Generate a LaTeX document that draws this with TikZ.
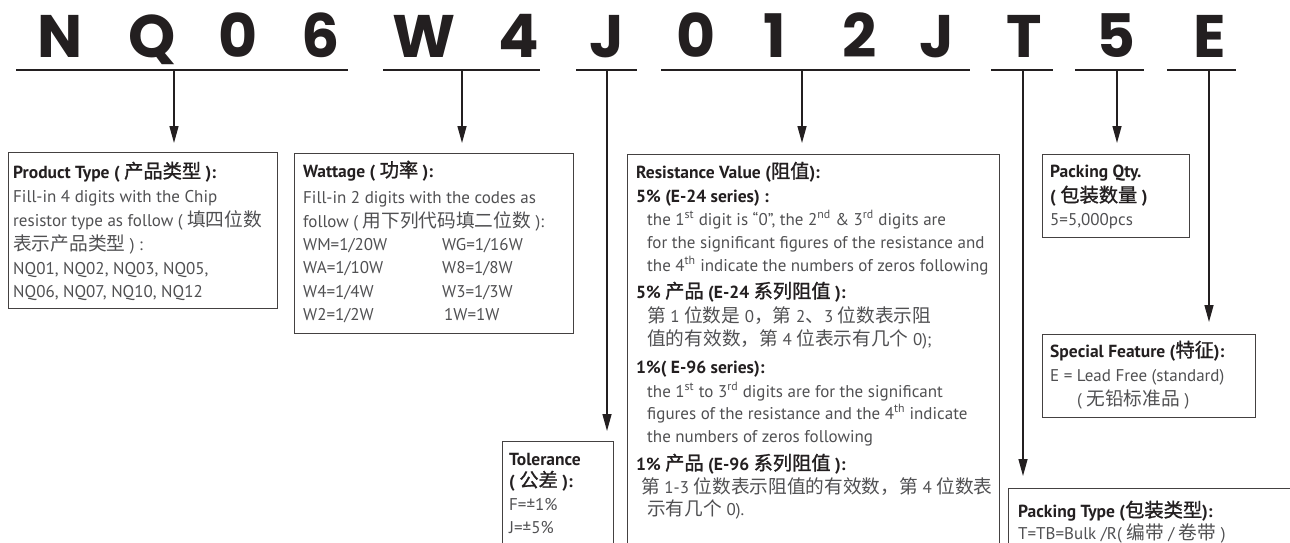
\documentclass[tikz,border=0pt]{standalone}
\usepackage{fontspec}
\setmainfont{PT Sans}
\newfontfamily\cjk{Noto Sans CJK SC}[Scale=1.1]
\newfontfamily\cjkh{Noto Sans CJK SC}[Scale=1.1, BoldFont=*, BoldFeatures={FakeBold=1.2}]
\newfontfamily\bigf{Poppins}
\usetikzlibrary{arrows.meta}
\definecolor{ink}{HTML}{231F20}
\definecolor{txt}{HTML}{505052}
\begin{document}
\begin{tikzpicture}[x=1pt,y=-1pt,
  letter/.style={font=\bigf\bfseries\fontsize{60}{60}\selectfont, text=ink, anchor=base, inner sep=0},
  uline/.style={line width=2pt, draw=ink},
  conn/.style={line width=1.4pt, draw=ink},
  arr/.style={conn, -{Triangle[width=9pt,length=17pt]}},
  box/.style={draw=ink!85, line width=1.3pt, anchor=north west, inner sep=0},
  hd/.style={font=\bfseries\fontsize{17.5}{17.5}\selectfont, text=ink, anchor=base west, inner sep=0},
  tx/.style={font=\fontsize{17}{17}\selectfont, text=txt, anchor=base west, inner sep=0},
]
\useasboundingbox (0,0) rectangle (1290,542);
\clip (0,0) rectangle (1290,542);

% letters
\node[letter] (l1) at (60,57) {N};
\node[letter] (l2) at (152,57) {Q};
\node[letter] (l3) at (238,57) {0};
\node[letter] (l4) at (321,57) {6};
\node[letter] (l5) at (424,57) {W};
\node[letter] (l6) at (519,57) {4};
\node[letter] (l7) at (607,57) {J};
\node[letter] (l8) at (696,57) {0};
\node[letter] (l9) at (775,57) {1};
\node[letter] (l10) at (860,57) {2};
\node[letter] (l11) at (937,57) {J};
\node[letter] (l12) at (1024,57) {T};
\node[letter] (l13) at (1116,57) {5};
\node[letter] (l14) at (1210,57) {E};

% underlines
\coordinate (u1a) at (16,70);   \coordinate (u1b) at (348,70);
\coordinate (u2a) at (383,70);  \coordinate (u2b) at (540,70);
\coordinate (u3a) at (576,70);  \coordinate (u3b) at (637,70);
\coordinate (u4a) at (661,70);  \coordinate (u4b) at (970,70);
\coordinate (u5a) at (991,70);  \coordinate (u5b) at (1053,70);
\coordinate (u6a) at (1075,70); \coordinate (u6b) at (1144,70);
\coordinate (u7a) at (1167,70); \coordinate (u7b) at (1236,70);
\foreach \i in {1,...,7} {\draw[uline] (u\i a) -- (u\i b);}

% boxes
\node[box, minimum width=269pt, minimum height=156pt] (bpt) at (8,152) {};
\node[box, minimum width=279pt, minimum height=180pt] (bw) at (294,153) {};
\node[box, minimum width=372pt, minimum height=420pt] (br) at (627,154) {};
\node[box, minimum width=111pt, minimum height=140pt] (bt) at (502,441) {};
\node[box, minimum width=147pt, minimum height=83pt] (bq) at (1042,154) {};
\node[box, minimum width=213pt, minimum height=83pt] (bs) at (1042,334) {};
\node[box, minimum width=320pt, minimum height=100pt] (bp) at (1008,488) {};

% connectors
\coordinate (s1) at (174,70);  \coordinate (e1) at (174,143);
\coordinate (s2) at (462,70);  \coordinate (e2) at (462,143);
\coordinate (s3) at (607,70);  \coordinate (e3) at (607,431);
\coordinate (s4) at (802,70);  \coordinate (e4) at (802,143);
\coordinate (s5) at (1023,70); \coordinate (e5) at (1023,476);
\coordinate (s6) at (1117,70); \coordinate (e6) at (1117,143);
\coordinate (s7) at (1209,70); \coordinate (e7) at (1209,322);
\foreach \i in {1,...,7} {\draw[arr] (s\i) -- (e\i);}

% Product type
\node[hd] (pt1) at (13,178) {Product Type ( {\cjkh 产品类型} ):};
\node[tx] (pt2) at (13,202) {Fill-in 4 digits with the Chip};
\node[tx] (pt3) at (13,226) {resistor type as follow ( {\cjk 填四位数}};
\node[tx] (pt4) at (13,250) {{\cjk 表示产品类型} ) :};
\node[tx] (pt5) at (13,274) {NQ01, NQ02, NQ03, NQ05,};
\node[tx] (pt6) at (13,297) {NQ06, NQ07, NQ10, NQ12};

% Wattage
\node[hd] (w1) at (303,177) {Wattage ( {\cjkh 功率} ):};
\node[tx] (w2) at (303,203) {Fill-in 2 digits with the codes as};
\node[tx] (w3) at (303,227) {follow ( {\cjk 用下列代码填二位数} ):};
\node[tx] (w4a) at (303,250) {WM=1/20W};
\node[tx] (w4b) at (442,250) {WG=1/16W};
\node[tx] (w5a) at (303,273) {WA=1/10W};
\node[tx] (w5b) at (442,273) {W8=1/8W};
\node[tx] (w6a) at (303,297) {W4=1/4W};
\node[tx] (w6b) at (442,297) {W3=1/3W};
\node[tx] (w7a) at (303,320) {W2=1/2W};
\node[tx] (w7b) at (444,320) {1W=1W};

% Resistance
\node[hd] (r1) at (636,178) {Resistance Value ({\cjkh 阻值}):};
\node[hd] (r2) at (636,202) {5\% (E-24 series) :};
\node[tx] (r3) at (647,225) {the 1\textsuperscript{st} digit is “0”, the 2\textsuperscript{nd} \& 3\textsuperscript{rd} digits are};
\node[tx] (r4) at (647,248) {for the significant figures of the resistance and};
\node[tx] (r5) at (647,271) {the 4\textsuperscript{th} indicate the numbers of zeros following};
\node[hd] (r6) at (636,298) {5\% {\cjkh 产品} (E-24 {\cjkh 系列阻值} ):};
\node[tx] (r7) at (647,322) {{\cjk 第} 1 {\cjk 位数是} 0{\cjk ，第} 2{\cjk 、}3 {\cjk 位数表示阻}};
\node[tx] (r8) at (647,345) {{\cjk 值的有效数，第} 4 {\cjk 位表示有几个} 0);};
\node[hd] (r9) at (636,373) {1\%( E-96 series):};
\node[tx] (r10) at (647,397) {the 1\textsuperscript{st} to 3\textsuperscript{rd} digits are for the significant};
\node[tx] (r11) at (647,419) {figures of the resistance and the 4\textsuperscript{th} indicate};
\node[tx] (r12) at (647,442) {the numbers of zeros following};
\node[hd] (r13) at (636,470) {1\% {\cjkh 产品} (E-96 {\cjkh 系列阻值} ):};
\node[tx] (r14) at (641,493) {{\cjk 第} 1-3 {\cjk 位数表示阻值的有效数，第} 4 {\cjk 位数表}};
\node[tx] (r15) at (647,515) {{\cjk 示有几个} 0).};

% Tolerance
\node[hd] (t1) at (509,465) {Tolerance};
\node[hd] (t2) at (509,487) {( {\cjkh 公差} ):};
\node[tx] (t3) at (509,510) {F=±1\%};
\node[tx] (t4) at (509,533) {J=±5\%};

% Packing qty
\node[hd] (q1) at (1050,177) {Packing Qty.};
\node[hd] (q2) at (1050,202) {( {\cjkh 包装数量} )};
\node[tx] (q3) at (1050,225) {5=5,000pcs};

% Special feature
\node[hd] (sf1) at (1050,357) {Special Feature ({\cjkh 特征}):};
\node[tx] (sf2) at (1050,381) {E = Lead Free (standard)};
\node[tx] (sf3) at (1077,405) {( {\cjk 无铅标准品} )};

% Packing type
\node[hd] (p1) at (1018,517) {Packing Type ({\cjkh 包装类型}):};
\node[tx] (p2) at (1018,539) {T=TB=Bulk /R( {\cjk 编带} / {\cjk 卷带} )};
\end{tikzpicture}
\end{document}
